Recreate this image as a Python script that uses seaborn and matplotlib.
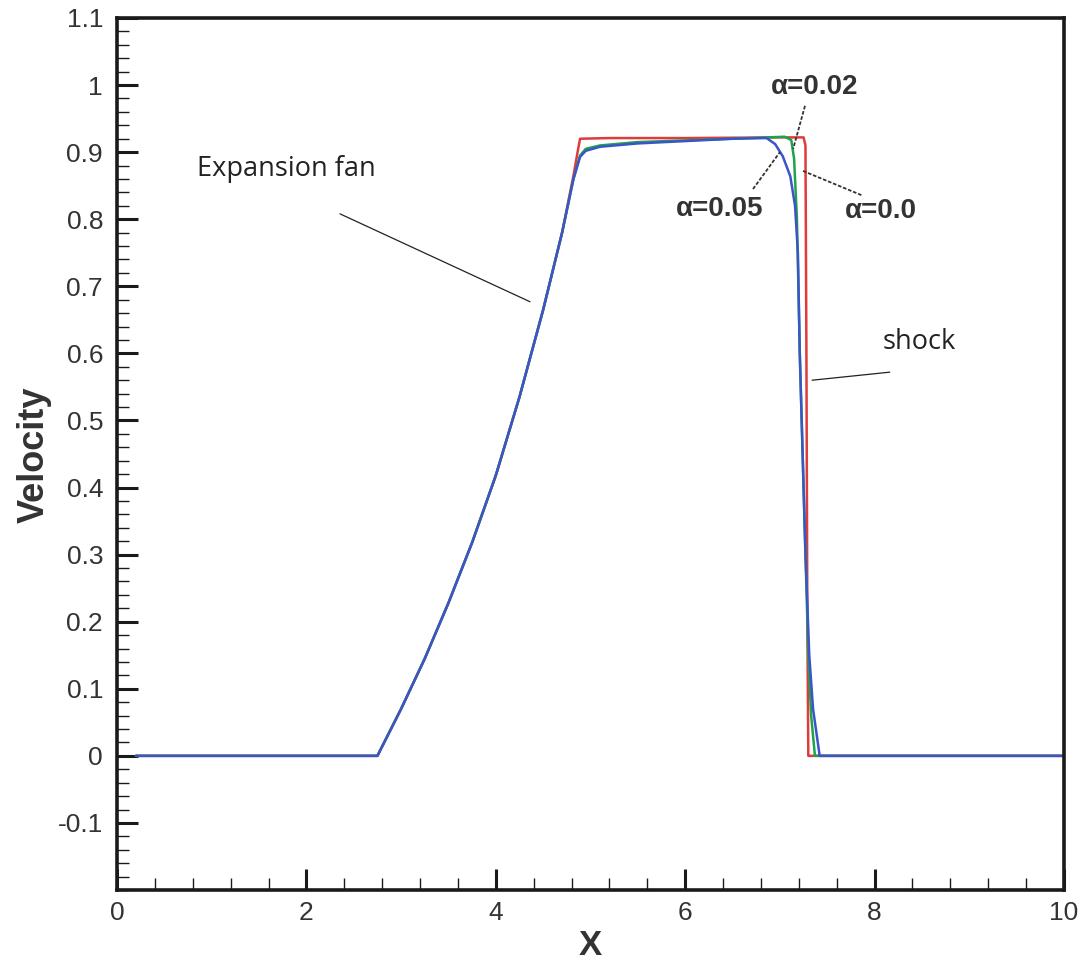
import numpy as np
import pandas as pd
import matplotlib
matplotlib.use("Agg")
import matplotlib.pyplot as plt
import seaborn as sns
from matplotlib.ticker import MultipleLocator

# ---- data ----
x_a00 = [0.2, 2.75, 3.0, 3.25, 3.5, 3.75, 4.0, 4.25, 4.5, 4.7, 4.82, 4.87, 4.89, 5.2, 6.0, 7.0, 7.25, 7.27, 7.28, 7.29, 7.30, 10.0]
v_a00 = [0.0, 0.0, 0.07, 0.145, 0.228, 0.318, 0.418, 0.535, 0.665, 0.78, 0.865, 0.905, 0.92, 0.921, 0.921, 0.922, 0.922, 0.91, 0.6, 0.2, 0.0, 0.0]

x_a02 = [0.2, 2.75, 3.0, 3.25, 3.5, 3.75, 4.0, 4.25, 4.5, 4.7, 4.82, 4.89, 4.95, 5.1, 5.5, 6.5, 7.05, 7.12, 7.15, 7.18, 7.21, 7.24, 7.27, 7.30, 7.33, 7.37, 10.0]
v_a02 = [0.0, 0.0, 0.07, 0.145, 0.228, 0.318, 0.418, 0.535, 0.665, 0.78, 0.86, 0.895, 0.905, 0.91, 0.915, 0.92, 0.923, 0.918, 0.89, 0.8, 0.6, 0.45, 0.3, 0.15, 0.06, 0.0, 0.0]

x_a05 = [0.2, 2.75, 3.0, 3.25, 3.5, 3.75, 4.0, 4.25, 4.5, 4.7, 4.82, 4.89, 4.95, 5.1, 5.5, 6.5, 6.86, 6.95, 7.03, 7.11, 7.16, 7.19, 7.21, 7.24, 7.27, 7.31, 7.35, 7.40, 7.42, 10.0]
v_a05 = [0.0, 0.0, 0.07, 0.145, 0.228, 0.318, 0.418, 0.535, 0.665, 0.78, 0.86, 0.893, 0.902, 0.908, 0.913, 0.92, 0.921, 0.912, 0.894, 0.864, 0.82, 0.75, 0.6, 0.45, 0.3, 0.15, 0.07, 0.02, 0.0, 0.0]

series_names = ["α=0.0", "α=0.02", "α=0.05"]
series_colors = ["#e03a3a", "#1fa34a", "#3a55c8"]

x_ticks = [0, 2, 4, 6, 8, 10]
y_ticks = [-0.1, 0, 0.1, 0.2, 0.3, 0.4, 0.5, 0.6, 0.7, 0.8, 0.9, 1.0, 1.1]
y_tick_labels = ["-0.1", "0", "0.1", "0.2", "0.3", "0.4", "0.5", "0.6", "0.7", "0.8", "0.9", "1", "1.1"]

sns.set_theme(style="white")
plt.rcParams["font.family"] = ["Liberation Sans", "DejaVu Sans"]

fig = plt.figure(figsize=(10.84, 9.61), dpi=100)
ax = fig.add_axes([117 / 1084, 1 - 890 / 961, (1064 - 117) / 1084, (890 - 18) / 961])

frames = [
    pd.DataFrame({"X": x_a00, "Velocity": v_a00, "case": series_names[0]}),
    pd.DataFrame({"X": x_a02, "Velocity": v_a02, "case": series_names[1]}),
    pd.DataFrame({"X": x_a05, "Velocity": v_a05, "case": series_names[2]}),
]
for df, c in zip(frames, series_colors):
    sns.lineplot(data=df, x="X", y="Velocity", ax=ax, color=c, linewidth=1.8,
                 sort=False, estimator=None, legend=False)

ax.set_xlim(0, 10)
ax.set_ylim(-0.2, 1.1)
ax.set_xticks(x_ticks)
ax.set_xticklabels([str(t) for t in x_ticks])
ax.set_yticks(y_ticks)
ax.set_yticklabels(y_tick_labels)
ax.xaxis.set_minor_locator(MultipleLocator(0.4))
ax.yaxis.set_minor_locator(MultipleLocator(0.02))
ax.tick_params(which="major", direction="in", length=15, width=2.2, labelsize=19,
               labelcolor="#333333", color="#1a1a1a", pad=10,
               left=True, bottom=True, top=False, right=False)
ax.tick_params(axis="x", which="major", pad=8)
ax.tick_params(which="minor", direction="in", length=8.5, width=1.0, color="#1a1a1a",
               left=True, bottom=True, top=False, right=False)
for s in ax.spines.values():
    s.set_linewidth(2.6)
    s.set_color("#1a1a1a")

ax.set_xlabel("X", fontsize=25, fontweight="bold", color="#333333")
ax.set_ylabel("Velocity", fontsize=26, fontweight="bold", color="#333333")
ax.yaxis.set_label_coords(-0.069, 0.499)
ax.xaxis.set_label_coords(0.5, -0.045)

# annotations
ann_font = ["Open Sans", "DejaVu Sans"]
ax.text(0.845, 0.875, "Expansion fan", fontsize=19.5, family=ann_font, color="#222222",
        ha="left", va="center")
ax.plot([2.355, 4.361], [0.808, 0.677], color="#222222", lw=0.9)
ax.text(8.08, 0.617, "shock", fontsize=19.5, family=ann_font, color="#222222",
        ha="left", va="center")
ax.plot([7.34, 8.16], [0.560, 0.572], color="#222222", lw=0.9)

lab_kw = dict(fontsize=20, fontweight="bold", color="#333333", ha="center", va="center")
ax.text(7.37, 0.997, "α=0.02", **lab_kw)
ax.plot([7.265, 7.14], [0.969, 0.905], color="#333333", lw=1.3, ls=(0, (2, 1)))
ax.text(6.36, 0.815, "α=0.05", **lab_kw)
ax.plot([6.716, 7.0], [0.845, 0.900], color="#333333", lw=1.3, ls=(0, (2, 1)))
ax.text(8.07, 0.812, "α=0.0", **lab_kw)
ax.plot([7.244, 7.877], [0.872, 0.835], color="#333333", lw=1.3, ls=(0, (2, 1)))

fig.savefig("out.png", dpi=100)
